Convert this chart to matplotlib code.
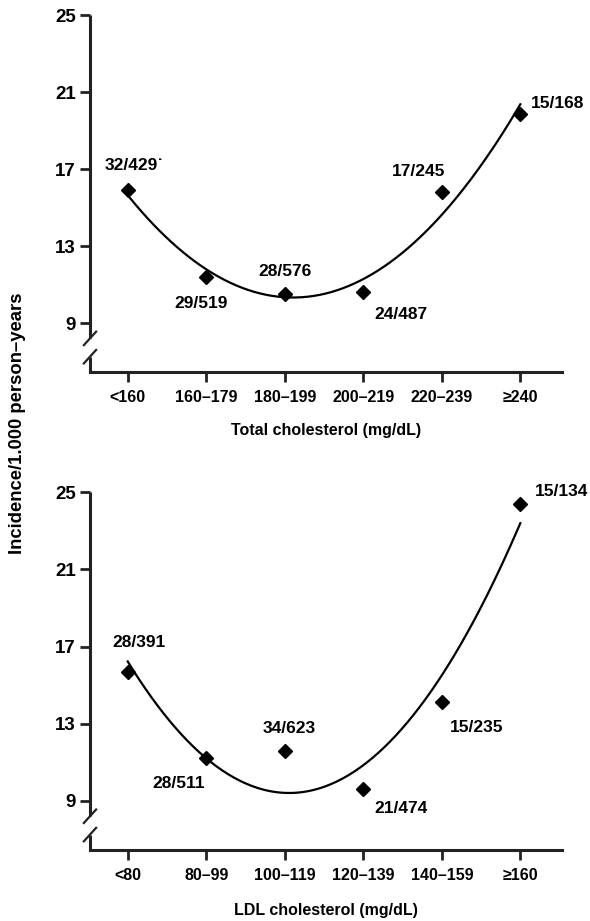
import numpy as np
import matplotlib
matplotlib.use("Agg")
import matplotlib.pyplot as plt

plt.rcParams['font.family'] = ['Liberation Sans', 'DejaVu Sans']
plt.rcParams['font.weight'] = 'bold'

# data
total_cats = ['<160', '160\u2013179', '180\u2013199', '200\u2013219', '220\u2013239', '\u2265240']
total_vals = [15.9, 11.4, 10.5, 10.6, 15.8, 19.85]
total_labels = ['32/429\u02d9', '29/519', '28/576', '24/487', '17/245', '15/168']

ldl_cats = ['<80', '80\u201399', '100\u2013119', '120\u2013139', '140\u2013159', '\u2265160']
ldl_vals = [15.7, 11.2, 11.6, 9.6, 14.1, 24.4]
ldl_labels = ['28/391', '28/511', '34/623', '21/474', '15/235', '15/134']

# label offsets in points (dx, dy) relative to each marker
total_offs = [(5, 18), (-4, -19), (0, 16), (27, -16), (-17, 15), (27, 8)]
ldl_offs = [(8, 21), (-20, -18), (3, 16), (27, -14), (25, -18), (30, 9)]

fig = plt.figure(figsize=(5.9, 9.21), dpi=100)
ax1 = fig.add_axes([0.1525, 0.596, 0.80, 0.3876])
ax2 = fig.add_axes([0.1525, 0.0771, 0.80, 0.3884])


def draw_panel(ax, cats, vals, labels, offs, xlabel, pad):
    x = np.arange(len(cats))
    # quadratic trend line fitted to the points
    coef = np.polyfit(x, vals, 2)
    xs = np.linspace(0, len(cats) - 1, 200)
    ax.plot(xs, np.polyval(coef, xs), color='black', lw=1.6, zorder=2)
    ax.plot(x, vals, 'D', color='black', markersize=7.5, zorder=3)
    for xi, yi, lab, (dx, dy) in zip(x, vals, labels, offs):
        ax.annotate(lab, (xi, yi), xytext=(dx, dy), textcoords='offset points',
                    ha='center', va='center', fontsize=12.5, fontweight='bold')

    ax.set_xlim(-0.48, 5.53)
    ax.set_ylim(6.45, 25)
    ax.set_xticks(x)
    ax.set_xticklabels(cats)
    ax.set_yticks([9, 13, 17, 21, 25])
    ax.tick_params(axis='both', direction='out', width=2, length=7, color='#222222')
    ax.tick_params(axis='x', pad=6, labelsize=11.5)
    ax.tick_params(axis='y', pad=3, labelsize=13.5)
    for t in ax.get_xticklabels() + ax.get_yticklabels():
        t.set_fontweight('bold')
    ax.set_xlabel(xlabel, fontsize=11.5, fontweight='bold', labelpad=pad)

    for s in ['top', 'right', 'left']:
        ax.spines[s].set_visible(False)
    ax.spines['bottom'].set_linewidth(2.2)
    ax.spines['bottom'].set_color('#222222')

    # left axis with a break
    tr = ax.get_yaxis_transform()
    ax.plot([0, 0], [8.2, 25], color='#222222', lw=2.2, transform=tr, clip_on=False,
            solid_capstyle='butt')
    ax.plot([0, 0], [6.45, 7.25], color='#222222', lw=2.2, transform=tr, clip_on=False,
            solid_capstyle='butt')
    for yb in [8.2, 7.25]:
        ax.plot([-0.013, 0.013], [yb - 0.35, yb + 0.35], color='#222222', lw=1.6,
                transform=tr, clip_on=False)


draw_panel(ax1, total_cats, total_vals, total_labels, total_offs,
           'Total cholesterol (mg/dL)', 13)
draw_panel(ax2, ldl_cats, ldl_vals, ldl_labels, ldl_offs,
           'LDL cholesterol (mg/dL)', 14.5)

fig.text(0.029, 0.540, 'Incidence/1.000 person\u2013years', rotation=90,
         ha='center', va='center', fontsize=13.3, fontweight='bold')

fig.savefig('out.png', dpi=100)
